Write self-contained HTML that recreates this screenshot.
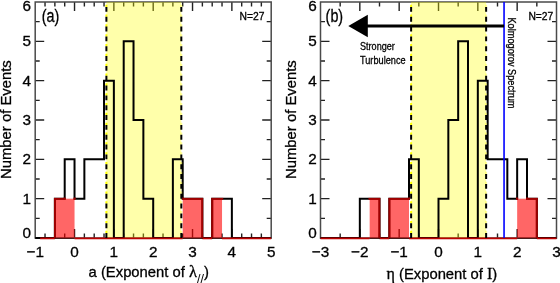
<!DOCTYPE html>
<html><head><meta charset="utf-8"><style>html,body{margin:0;padding:0;background:#fff;}svg{display:block;}</style></head>
<body>
<svg width="560" height="283" viewBox="0 0 560 283">
<rect width="560" height="283" fill="#fff"/>
<path d="M45.03 238.0v-4.5M45.03 2.0v4.5M54.87 238.0v-4.5M54.87 2.0v4.5M64.7 238.0v-4.5M64.7 2.0v4.5M74.53 238.0v-9M74.53 2.0v9M84.37 238.0v-4.5M84.37 2.0v4.5M94.2 238.0v-4.5M94.2 2.0v4.5M104.03 238.0v-4.5M104.03 2.0v4.5M113.87 238.0v-9M113.87 2.0v9M123.7 238.0v-4.5M123.7 2.0v4.5M133.53 238.0v-4.5M133.53 2.0v4.5M143.37 238.0v-4.5M143.37 2.0v4.5M153.2 238.0v-9M153.2 2.0v9M163.03 238.0v-4.5M163.03 2.0v4.5M172.87 238.0v-4.5M172.87 2.0v4.5M182.7 238.0v-4.5M182.7 2.0v4.5M192.53 238.0v-9M192.53 2.0v9M202.37 238.0v-4.5M202.37 2.0v4.5M212.2 238.0v-4.5M212.2 2.0v4.5M222.03 238.0v-4.5M222.03 2.0v4.5M231.87 238.0v-9M231.87 2.0v9M241.7 238.0v-4.5M241.7 2.0v4.5M251.53 238.0v-4.5M251.53 2.0v4.5M261.36 238.0v-4.5M261.36 2.0v4.5M35.2 218.33h4.5M271.2 218.33h-4.5M35.2 198.67h9M271.2 198.67h-9M35.2 179h4.5M271.2 179h-4.5M35.2 159.33h9M271.2 159.33h-9M35.2 139.67h4.5M271.2 139.67h-4.5M35.2 120h9M271.2 120h-9M35.2 100.33h4.5M271.2 100.33h-4.5M35.2 80.67h9M271.2 80.67h-9M35.2 61h4.5M271.2 61h-4.5M35.2 41.34h9M271.2 41.34h-9M35.2 21.67h4.5M271.2 21.67h-4.5" stroke="#222" stroke-width="1.4" fill="none"/>
<rect x="35.2" y="2.0" width="236" height="236.0" fill="none" stroke="#4a4a4a" stroke-width="1.5"/>
<rect x="106.39" y="2.0" width="74.93" height="236.0" fill="#FFFF00" fill-opacity="0.333"/>
<path d="M35.2 238 L54.87 238 L54.87 198.67 L64.7 198.67 L64.7 159.33 L74.53 159.33 L74.53 198.67 L84.37 198.67 L84.37 159.33 L104.03 159.33 L104.03 80.67 L113.87 80.67 L113.87 238 L123.7 238 L123.7 41.34 L133.53 41.34 L133.53 120 L143.37 120 L143.37 198.67 L153.2 198.67 L153.2 238 L172.87 238 L172.87 159.33 L182.7 159.33 L182.7 198.67 L202.37 198.67 L202.37 238 L212.2 238 L212.2 198.67 L231.87 198.67 L231.87 238 L271.2 238" fill="none" stroke="#000" stroke-width="2"/>
<path d="M40.12 238.3H54.87M74.53 238.3H182.7M202.37 238.3H212.2M222.03 238.3H271.2" stroke="#BC0000" stroke-width="1.8"/>
<clipPath id="clipa"><rect x="53.67" y="197.47" width="22.07" height="40.53"/><rect x="181.5" y="197.47" width="22.07" height="40.53"/><rect x="211" y="197.47" width="12.23" height="40.53"/></clipPath>
<rect x="54.87" y="198.67" width="19.67" height="39.33" fill="#FF0000" fill-opacity="0.6"/>
<rect x="182.7" y="198.67" width="19.67" height="39.33" fill="#FF0000" fill-opacity="0.6"/>
<rect x="212.2" y="198.67" width="9.83" height="39.33" fill="#FF0000" fill-opacity="0.6"/>
<path d="M35.2 238 L54.87 238 L54.87 198.67 L64.7 198.67 L64.7 159.33 L74.53 159.33 L74.53 198.67 L84.37 198.67 L84.37 159.33 L104.03 159.33 L104.03 80.67 L113.87 80.67 L113.87 238 L123.7 238 L123.7 41.34 L133.53 41.34 L133.53 120 L143.37 120 L143.37 198.67 L153.2 198.67 L153.2 238 L172.87 238 L172.87 159.33 L182.7 159.33 L182.7 198.67 L202.37 198.67 L202.37 238 L212.2 238 L212.2 198.67 L231.87 198.67 L231.87 238 L271.2 238" fill="none" stroke="#9E0000" stroke-width="2" clip-path="url(#clipa)"/>
<path d="M54.87 238.3H74.53M182.7 238.3H202.37M212.2 238.3H222.03" stroke="#4a1a1a" stroke-width="1.2"/>
<path d="M106.39 238.0V2.0" stroke="#FFFF00" stroke-width="2" stroke-dasharray="0 4.92 2.3 2.61"/>
<path d="M106.39 238.0V2.0" stroke="#000" stroke-width="2" stroke-dasharray="4.92 4.913"/>
<path d="M181.32 238.0V2.0" stroke="#FFFF00" stroke-width="2" stroke-dasharray="0 4.92 2.3 2.61" stroke-opacity="0.35"/>
<path d="M181.32 238.0V2.0" stroke="#000" stroke-width="2" stroke-dasharray="4.92 4.913"/>
<path d="M340.17 238.0v-4.5M340.17 2.0v4.5M359.83 238.0v-9M359.83 2.0v9M379.5 238.0v-4.5M379.5 2.0v4.5M399.17 238.0v-9M399.17 2.0v9M418.83 238.0v-4.5M418.83 2.0v4.5M438.5 238.0v-9M438.5 2.0v9M458.17 238.0v-4.5M458.17 2.0v4.5M477.83 238.0v-9M477.83 2.0v9M497.5 238.0v-4.5M497.5 2.0v4.5M517.16 238.0v-9M517.16 2.0v9M536.83 238.0v-4.5M536.83 2.0v4.5M320.5 218.33h4.5M556.5 218.33h-4.5M320.5 198.67h9M556.5 198.67h-9M320.5 179h4.5M556.5 179h-4.5M320.5 159.33h9M556.5 159.33h-9M320.5 139.67h4.5M556.5 139.67h-4.5M320.5 120h9M556.5 120h-9M320.5 100.33h4.5M556.5 100.33h-4.5M320.5 80.67h9M556.5 80.67h-9M320.5 61h4.5M556.5 61h-4.5M320.5 41.34h9M556.5 41.34h-9M320.5 21.67h4.5M556.5 21.67h-4.5" stroke="#222" stroke-width="1.4" fill="none"/>
<rect x="320.5" y="2.0" width="236" height="236.0" fill="none" stroke="#4a4a4a" stroke-width="1.5"/>
<rect x="411.12" y="2.0" width="75.01" height="236.0" fill="#FFFF00" fill-opacity="0.333"/>
<path d="M320.5 238 L359.83 238 L359.83 198.67 L379.5 198.67 L379.5 238 L389.33 238 L389.33 198.67 L409 198.67 L409 159.33 L418.83 159.33 L418.83 238 L438.5 238 L438.5 198.67 L448.33 198.67 L448.33 120 L458.17 120 L458.17 41.34 L468 41.34 L468 238 L477.83 238 L477.83 80.67 L487.67 80.67 L487.67 159.33 L507.33 159.33 L507.33 198.67 L517.16 198.67 L517.16 159.33 L527 159.33 L527 198.67 L536.83 198.67 L536.83 238 L556.5 238" fill="none" stroke="#000" stroke-width="2"/>
<path d="M320.5 238.3H369.67M379.5 238.3H389.33M409 238.3H517.16M536.83 238.3H556.5" stroke="#BC0000" stroke-width="1.8"/>
<clipPath id="clipb"><rect x="368.47" y="197.47" width="12.23" height="40.53"/><rect x="388.13" y="197.47" width="22.07" height="40.53"/><rect x="515.96" y="197.47" width="22.07" height="40.53"/></clipPath>
<rect x="369.67" y="198.67" width="9.83" height="39.33" fill="#FF0000" fill-opacity="0.6"/>
<rect x="389.33" y="198.67" width="19.67" height="39.33" fill="#FF0000" fill-opacity="0.6"/>
<rect x="517.16" y="198.67" width="19.67" height="39.33" fill="#FF0000" fill-opacity="0.6"/>
<path d="M320.5 238 L359.83 238 L359.83 198.67 L379.5 198.67 L379.5 238 L389.33 238 L389.33 198.67 L409 198.67 L409 159.33 L418.83 159.33 L418.83 238 L438.5 238 L438.5 198.67 L448.33 198.67 L448.33 120 L458.17 120 L458.17 41.34 L468 41.34 L468 238 L477.83 238 L477.83 80.67 L487.67 80.67 L487.67 159.33 L507.33 159.33 L507.33 198.67 L517.16 198.67 L517.16 159.33 L527 159.33 L527 198.67 L536.83 198.67 L536.83 238 L556.5 238" fill="none" stroke="#9E0000" stroke-width="2" clip-path="url(#clipb)"/>
<path d="M369.67 238.3H379.5M389.33 238.3H409M517.16 238.3H536.83" stroke="#4a1a1a" stroke-width="1.2"/>
<path d="M411.12 238.0V2.0" stroke="#FFFF00" stroke-width="2" stroke-dasharray="0 4.92 2.3 2.61"/>
<path d="M411.12 238.0V2.0" stroke="#000" stroke-width="2" stroke-dasharray="4.92 4.913"/>
<path d="M486.13 238.0V2.0" stroke="#FFFF00" stroke-width="2" stroke-dasharray="0 4.92 2.3 2.61" stroke-opacity="0.35"/>
<path d="M486.13 238.0V2.0" stroke="#000" stroke-width="2" stroke-dasharray="4.92 4.913"/>
<line x1="504.05" y1="2.0" x2="504.05" y2="238.0" stroke="#0000FF" stroke-width="1.6"/>
<line x1="366" y1="26" x2="504.05" y2="26" stroke="#000" stroke-width="3"/>
<polygon points="348.3,26 367.8,14.8 367.8,37.2" fill="#000"/>
<g font-family="Liberation Sans, Arial, Helvetica, sans-serif" fill="#000" stroke="#000" stroke-width="0.3">
<text x="30.9" y="238.3" font-size="15.3" text-anchor="end">0</text>
<text x="30.9" y="203.67" font-size="15.3" text-anchor="end">1</text>
<text x="30.9" y="164.33" font-size="15.3" text-anchor="end">2</text>
<text x="30.9" y="125" font-size="15.3" text-anchor="end">3</text>
<text x="30.9" y="85.67" font-size="15.3" text-anchor="end">4</text>
<text x="30.9" y="46.34" font-size="15.3" text-anchor="end">5</text>
<text x="30.9" y="10.5" font-size="15.3" text-anchor="end">6</text>
<text x="316.8" y="238.3" font-size="15.3" text-anchor="end">0</text>
<text x="316.8" y="203.67" font-size="15.3" text-anchor="end">1</text>
<text x="316.8" y="164.33" font-size="15.3" text-anchor="end">2</text>
<text x="316.8" y="125" font-size="15.3" text-anchor="end">3</text>
<text x="316.8" y="85.67" font-size="15.3" text-anchor="end">4</text>
<text x="316.8" y="46.34" font-size="15.3" text-anchor="end">5</text>
<text x="316.8" y="10.5" font-size="15.3" text-anchor="end">6</text>
<text x="35.2" y="257" font-size="15.3" text-anchor="middle">−1</text>
<text x="74.53" y="257" font-size="15.3" text-anchor="middle">0</text>
<text x="113.87" y="257" font-size="15.3" text-anchor="middle">1</text>
<text x="153.2" y="257" font-size="15.3" text-anchor="middle">2</text>
<text x="192.53" y="257" font-size="15.3" text-anchor="middle">3</text>
<text x="231.87" y="257" font-size="15.3" text-anchor="middle">4</text>
<text x="271.2" y="257" font-size="15.3" text-anchor="middle">5</text>
<text x="320.5" y="257" font-size="15.3" text-anchor="middle">−3</text>
<text x="359.83" y="257" font-size="15.3" text-anchor="middle">−2</text>
<text x="399.17" y="257" font-size="15.3" text-anchor="middle">−1</text>
<text x="438.5" y="257" font-size="15.3" text-anchor="middle">0</text>
<text x="477.83" y="257" font-size="15.3" text-anchor="middle">1</text>
<text x="517.16" y="257" font-size="15.3" text-anchor="middle">2</text>
<text x="556.5" y="257" font-size="15.3" text-anchor="middle">3</text>
<text transform="translate(41.8 22.1) scale(0.82 1)" font-size="17.5">(a)</text>
<text transform="translate(325.6 22.1) scale(0.82 1)" font-size="17.5">(b)</text>
<text x="239.5" y="19.7" font-size="10.3">N=27</text>
<text x="528.4" y="19.7" font-size="10.3">N=27</text>
<text text-anchor="middle" font-size="14.85" transform="translate(11.1 119.6) rotate(-90)">Number of Events</text>
<text text-anchor="middle" font-size="14.85" transform="translate(296.4 119.6) rotate(-90)">Number of Events</text>
<text x="88.6" y="276.6" font-size="14.8">a (Exponent of <tspan font-family="Liberation Serif, serif" font-size="16.5">λ</tspan><tspan font-size="12.5" dy="6" stroke-width="0">//</tspan><tspan dy="-6">)</tspan></text>
<text x="386.5" y="279.3" font-size="14.8"><tspan font-family="Liberation Serif, serif" font-size="16">η</tspan> (Exponent of <tspan font-family="Liberation Serif, serif" font-size="16">I</tspan>)</text>
<text transform="translate(360 50.4) scale(0.81 1)" font-size="11.2">Stronger</text>
<text transform="translate(360 64.1) scale(0.82 1)" font-size="11.2">Turbulence</text>
<text transform="translate(508.3 17.4) rotate(90) scale(0.87 1)" font-size="10.6">Kolmogorov Spectrum</text>
</g>
</svg>
</body></html>
